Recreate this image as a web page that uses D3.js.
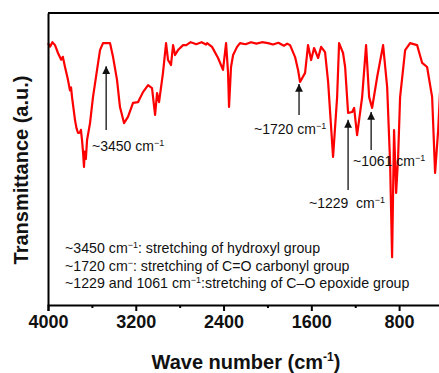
<!DOCTYPE html>
<html>
<head>
<meta charset="utf-8">
<script src="https://cdn.jsdelivr.net/npm/d3@7"></script>
<style>
  body { margin: 0; background: #fff; }
  svg { display: block; font-family: Arial, 'Liberation Sans', sans-serif; }
</style>
</head>
<body>
<div id="chart"></div>
<script>
// FTIR spectrum
var waveNumbers = [4000, 3980, 3960, 3936, 3909, 3880, 3865, 3845, 3818, 3800, 3790, 3781, 3754, 3740, 3726, 3710,
  3700, 3690, 3680, 3672, 3665, 3655, 3644, 3617, 3590, 3553, 3526, 3499,
  3435, 3407, 3371, 3344, 3307, 3271, 3225, 3179, 3134, 3088, 3052, 3024, 3006, 2988, 2952, 2924, 2906, 2879,
  2860, 2842, 2815, 2769, 2740, 2700, 2678, 2650, 2600, 2560, 2550, 2505, 2450, 2405, 2377, 2359, 2350, 2332,
  2313, 2277, 2250, 2200, 2150, 2100, 2050, 1994, 1950, 1900, 1850, 1820, 1794,
  1748, 1721, 1703, 1657, 1630, 1602, 1575, 1538, 1511, 1475, 1447, 1402, 1365, 1347, 1311, 1292, 1265, 1228,
  1210, 1183, 1137, 1101, 1073, 1046, 1000, 946, 909, 882, 864, 846, 827, 809, 791, 745, 700, 636, 590, 545,
  499, 472, 444, 426];
var transmittance = [89.7, 88.5, 90.0, 89.0, 86.3, 84.0, 85.0, 81.5, 77.1, 73.5, 74.5, 71.2, 63.4, 60.5, 58.9, 59.0,
  60.0, 56.5, 52.0, 47.3, 52.5, 50.0, 56.5, 62.3, 71.2, 80.5, 87.3, 89.7,
  89.7, 84.9, 77.1, 67.8, 62.3, 64.4, 69.2, 69.5, 72.9, 75.3, 74.3, 65.1, 72.6, 69.5, 79.5, 89.7, 83.9, 82.2,
  89.0, 85.6, 87.3, 89.0, 89.0, 90.0, 89.7, 89.3, 90.0, 89.2, 89.7, 88.4, 84.6, 80.5, 89.7, 79.5, 67.8, 81.5,
  85.6, 88.4, 89.7, 89.3, 90.0, 89.5, 90.0, 89.7, 89.2, 89.8, 88.8, 89.5, 89.0,
  84.9, 80.5, 76.4, 79.5, 89.0, 83.9, 88.0, 84.6, 88.4, 86.6, 76.4, 50.7, 71.2, 89.7, 86.3, 81.5, 65.8, 66.1,
  67.5, 58.2, 71.2, 89.0, 71.2, 67.5, 78.1, 89.0, 74.7, 48.6, 16.4, 59.9, 38.4, 50.7, 71.2, 87.3, 89.7, 89.0, 82.9, 81.5,
  71.2, 45.2, 59.9, 73.6];

var majorTicks = [4000, 3200, 2400, 1600, 800];
var minorTicks = [3600, 2800, 2000, 1200, 400];

// arrow annotations: position, tip / tail in transmittance units
var peakNames = ['~3450 cm', '~1720 cm', '~1061 cm', '~1229  cm'];
var peakAt = [3470, 1712, 1055, 1265];
var arrowTip = [81.8, 75.7, 66.1, 63.4];
var arrowTail = [59.9, 65.1, 53.1, 39.4];

var noteLines = [
  [['~3450 cm', 0], ['\u22121', 1], [': stretching of hydroxyl group', 0]],
  [['~1720 cm', 0], ['\u2212', 1], [': stretching of C=O carbonyl group', 0]],
  [['~1229 and 1061 cm', 0], ['\u22121', 1], [':stretching of C\u2013O epoxide group', 0]]
];

var width = 439, height = 373;
var margin = { top: 13, left: 48 };
var plotW = 395, plotH = 292;

var svg = d3.select('#chart').append('svg')
  .attr('width', width)
  .attr('height', height);

var x = d3.scaleLinear().domain([4000, 400]).range([margin.left, margin.left + plotW]);
var y = d3.scaleLinear().domain([0, 100]).range([margin.top + plotH, margin.top]);

// ****************** spectrum ***************************
var line = d3.line()
  .x(function (d, i) { return x(waveNumbers[i]); })
  .y(function (d) { return y(d); });

svg.append('path')
  .datum(transmittance)
  .attr('d', line)
  .attr('fill', 'none')
  .attr('stroke', '#ff0000')
  .attr('stroke-width', 2.2)
  .attr('stroke-linejoin', 'round');

// ****************** axes ***************************
var xAxis = svg.append('g')
  .attr('transform', 'translate(0,' + (margin.top + plotH) + ')')
  .call(d3.axisBottom(x).tickValues(majorTicks).tickSize(6).tickPadding(4).tickFormat(d3.format('d')));
xAxis.select('.domain').attr('stroke-width', 2);
xAxis.selectAll('.tick line').attr('stroke-width', 2);
xAxis.selectAll('text')
  .attr('font-size', 18)
  .attr('font-weight', 'bold')
  .attr('font-family', "Arial, 'Liberation Sans', sans-serif")
  .attr('fill', '#111');

var xMinor = svg.append('g')
  .attr('transform', 'translate(0,' + (margin.top + plotH) + ')')
  .call(d3.axisBottom(x).tickValues(minorTicks).tickSize(3).tickFormat(''));
xMinor.select('.domain').remove();
xMinor.selectAll('.tick line').attr('stroke-width', 2);

// left axis and top border
svg.append('g')
  .attr('transform', 'translate(' + margin.left + ',0)')
  .call(d3.axisLeft(y).tickValues([]).tickSizeOuter(0))
  .select('.domain').attr('stroke-width', 2);

svg.append('line')
  .attr('x1', margin.left).attr('x2', margin.left + plotW)
  .attr('y1', margin.top).attr('y2', margin.top)
  .attr('stroke', '#000').attr('stroke-width', 2);

// axis titles
var xt = svg.append('text')
  .attr('x', 246).attr('y', 369)
  .attr('text-anchor', 'middle')
  .attr('font-size', 20).attr('font-weight', 'bold').attr('fill', '#111');
xt.append('tspan').text('Wave number (cm');
xt.append('tspan').attr('font-size', 12).attr('dy', -8).text('-1');
xt.append('tspan').attr('dy', 8).text(')');

svg.append('text')
  .attr('transform', 'translate(28,170) rotate(-90)')
  .attr('text-anchor', 'middle')
  .attr('font-size', 20).attr('font-weight', 'bold').attr('fill', '#111')
  .text('Transmittance (a.u.)');

// ****************** annotations ***************************
svg.append('defs').append('marker')
  .attr('id', 'head')
  .attr('viewBox', '0 0 10 10')
  .attr('refX', 10).attr('refY', 5)
  .attr('markerWidth', 6).attr('markerHeight', 6)
  .attr('orient', 'auto')
  .append('path').attr('d', 'M0,0 L10,5 L0,10 z').attr('fill', '#111');

var labelPos = [[92, 151], [254, 134], [353, 166], [309, 208]];

peakAt.forEach(function (w, i) {
  svg.append('line')
    .attr('x1', x(w)).attr('x2', x(w))
    .attr('y1', y(arrowTail[i])).attr('y2', y(arrowTip[i]))
    .attr('stroke', '#111').attr('stroke-width', 1.3)
    .attr('marker-end', 'url(#head)');

  var t = svg.append('text')
    .attr('x', labelPos[i][0]).attr('y', labelPos[i][1])
    .attr('font-size', 14).attr('fill', '#111')
    .attr('xml:space', 'preserve');
  t.append('tspan').text(peakNames[i]);
  t.append('tspan').attr('font-size', 9).attr('dy', -5).text('\u22121');
});

// notes block
noteLines.forEach(function (parts, i) {
  var t = svg.append('text')
    .attr('x', 65).attr('y', 253 + i * 17.5)
    .attr('font-size', 14.2).attr('fill', '#111');
  var raised = false;
  parts.forEach(function (p) {
    var s = t.append('tspan').text(p[0]);
    if (p[1]) { s.attr('font-size', 9).attr('dy', -5); raised = true; }
    else if (raised) { s.attr('dy', 5); raised = false; }
  });
});
</script>
</body>
</html>
